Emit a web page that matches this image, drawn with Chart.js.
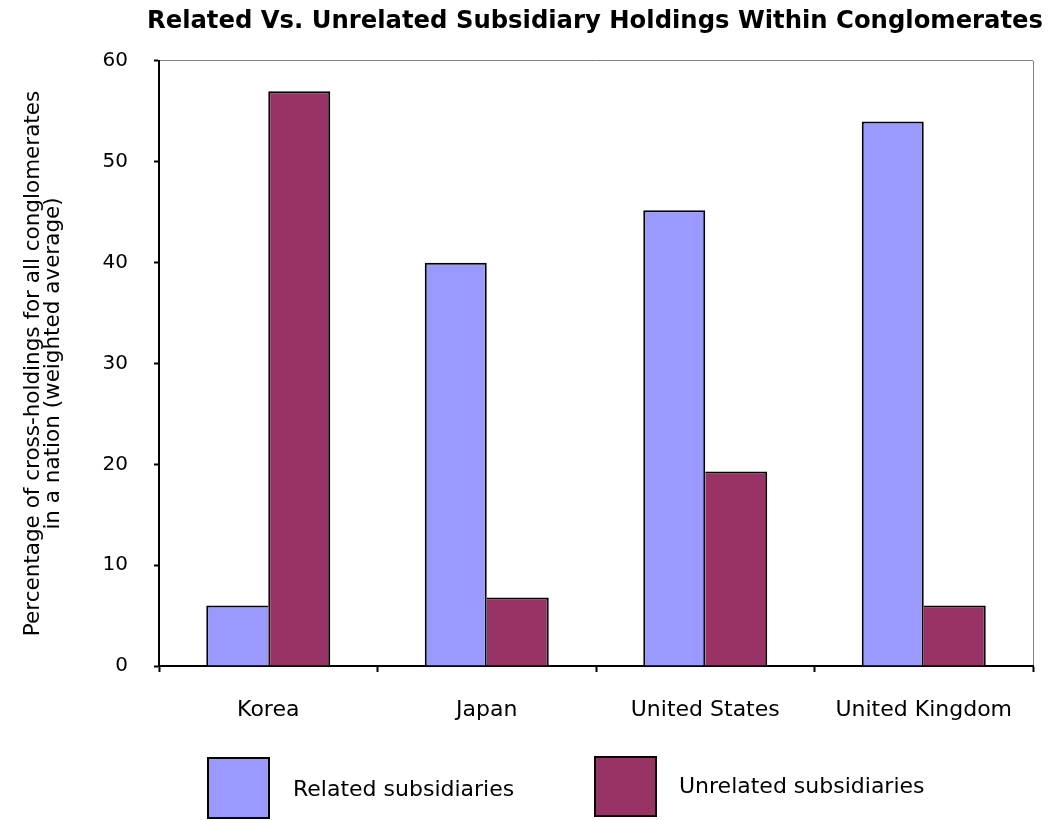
<!DOCTYPE html>
<html><head><meta charset="utf-8">
<script src="https://cdn.jsdelivr.net/npm/chart.js@4"></script>
<style>html,body{margin:0;padding:0;background:#fff;} canvas{display:block;}</style>
</head><body>
<canvas id="c" width="1049" height="820"></canvas>
<script>
const categories = ['Korea', 'Japan', 'United States', 'United Kingdom'];
const relatedValues = [6, 40, 45.2, 54];
const unrelatedValues = [57, 6.8, 19.3, 6];
const seriesLabels = ['Related subsidiaries', 'Unrelated subsidiaries'];
const seriesColors = ['#9999FF', '#993366'];
const yTicks = [0, 10, 20, 30, 40, 50, 60];
const chartTitle = 'Related Vs. Unrelated Subsidiary Holdings Within Conglomerates';
const yTitle = ['Percentage of cross-holdings for all conglomerates', 'in a nation (weighted average)'];

const FONT = '"DejaVu Sans", sans-serif';
Chart.defaults.font.family = FONT;
Chart.defaults.color = '#000';

const BW = 2;
function relBorder(ctx) {
  const i = ctx.dataIndex;
  return {top: BW, left: BW, bottom: 0, right: relatedValues[i] >= unrelatedValues[i] ? BW : 0};
}
function unrelBorder(ctx) {
  const i = ctx.dataIndex;
  return {top: BW, right: BW, bottom: 0, left: unrelatedValues[i] > relatedValues[i] ? BW : 0};
}

// widen the title block a little beyond the plot area so the title is not squeezed
const titleSpan = {
  id: 'titleSpan',
  afterLayout(chart) {
    const t = chart.titleBlock;
    if (!t) return;
    t.left = chart.chartArea.left - 18;
    t.right = chart.width;
    t.width = t.right - t.left;
  }
};

const legendLayout = [
  {x: 208, y: 758, w: 61, h: 60, tx: 293, ty: 790},
  {x: 595, y: 757, w: 61, h: 59, tx: 679, ty: 787}
];
const bottomLegend = {
  id: 'bottomLegend',
  afterDraw(chart) {
    const ctx = chart.ctx;
    chart.data.datasets.forEach((ds, i) => {
      const L = legendLayout[i];
      ctx.save();
      ctx.fillStyle = ds.backgroundColor;
      ctx.fillRect(L.x, L.y, L.w, L.h);
      ctx.lineWidth = 2;
      ctx.strokeStyle = '#000';
      ctx.strokeRect(L.x, L.y, L.w, L.h);
      ctx.fillStyle = '#000';
      ctx.font = '22px ' + FONT;
      ctx.textBaseline = 'middle';
      ctx.textAlign = 'left';
      ctx.fillText(ds.label, L.tx, L.ty);
      ctx.restore();
    });
  }
};

new Chart(document.getElementById('c'), {
  type: 'bar',
  data: {
    labels: categories,
    datasets: [
      {label: seriesLabels[0], data: relatedValues, backgroundColor: seriesColors[0], borderColor: '#000', borderWidth: relBorder, borderSkipped: false},
      {label: seriesLabels[1], data: unrelatedValues, backgroundColor: seriesColors[1], borderColor: '#000', borderWidth: unrelBorder, borderSkipped: false}
    ]
  },
  options: {
    responsive: false,
    devicePixelRatio: 1,
    animation: false,
    datasets: {bar: {categoryPercentage: 0.5675, barPercentage: 1}},
    layout: {padding: {left: 0, right: 16, top: 0, bottom: 0}},
    plugins: {
      legend: {display: false},
      tooltip: {enabled: false},
      title: {
        display: true, text: chartTitle, fullSize: false, color: '#000',
        font: {family: FONT, size: 24.3, weight: 'bold', lineHeight: 1.2},
        padding: {top: 7, bottom: 24.8}
      }
    },
    scales: {
      x: {
        grid: {
          offset: true,
          color: c => c.type === 'tick' ? 'rgba(0,0,0,0)' : '#808080',
          lineWidth: 1, tickColor: '#000', tickLength: 6, tickWidth: 2
        },
        border: {color: '#000', width: 2},
        ticks: {color: '#000', font: {size: 22}, padding: 25, maxRotation: 0, autoSkip: false},
        afterFit: s => { s.height = 154; }
      },
      y: {
        min: 0, max: 60,
        afterBuildTicks: s => { s.ticks = yTicks.map(v => ({value: v})); },
        ticks: {color: '#000', font: {size: 20}, padding: 26},
        grid: {
          color: c => (c.tick && c.tick.value === 60) ? '#808080' : 'rgba(0,0,0,0)',
          lineWidth: 1, tickColor: '#000', tickLength: 5, tickWidth: 2
        },
        border: {color: '#000', width: 2},
        title: {display: true, text: yTitle, color: '#000', font: {size: 21.5, lineHeight: '19.5px'}, padding: {top: 24, bottom: 0}},
        afterFit: s => { s.width = 159; }
      }
    }
  },
  plugins: [titleSpan, bottomLegend]
});
</script>
</body></html>
